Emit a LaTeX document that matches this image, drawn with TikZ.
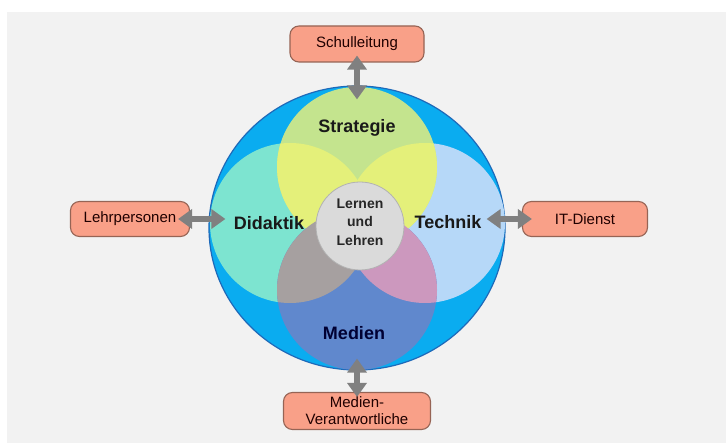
\documentclass[tikz,border=0pt]{standalone}
\usepackage{fontspec}
\setmainfont{Liberation Sans}
\usetikzlibrary{arrows.meta}
\usetikzlibrary{shapes.geometric}
\usepackage{xcolor}
\definecolor{bgcol}{RGB}{242,242,242}
\definecolor{ringblue}{RGB}{10,172,240}
\definecolor{ringline}{RGB}{30,105,185}
\definecolor{stratcol}{RGB}{196,228,142}
\definecolor{didakcol}{RGB}{125,228,208}
\definecolor{techcol}{RGB}{182,216,248}
\definecolor{medcol}{RGB}{96,136,205}
\definecolor{yelcol}{RGB}{228,240,122}
\definecolor{brncol}{RGB}{166,160,160}
\definecolor{pnkcol}{RGB}{204,152,190}
\definecolor{corecol}{RGB}{218,218,218}
\definecolor{boxfill}{RGB}{249,160,136}
\definecolor{boxline}{RGB}{150,100,85}
\definecolor{linkgray}{RGB}{128,128,128}

\begin{document}
\begin{tikzpicture}[x=1pt,y=-1pt,
  partner/.style={draw=boxline, line width=1.1pt, fill=boxfill, rounded corners=9pt,
    font=\fontsize{15}{17}\selectfont, text=black!80!red!60!black, align=center, inner sep=0pt},
  link/.style={draw=linkgray, line width=6pt,
    {Triangle[width=19pt,length=14pt]}-{Triangle[width=19pt,length=14pt]}},
  area/.style={font=\fontsize{18}{20}\selectfont\bfseries, text=black!90}]
\useasboundingbox (0,0) rectangle (726,443);
\fill[white] (0,0) rectangle (726,443);
\fill[bgcol] (7,12) rectangle (726,443);

% outer ring
\node[ellipse, draw=ringline, line width=1.2pt, fill=ringblue, minimum width=296pt, minimum height=284pt] (ring) at (357,228) {};

% petals
\coordinate (s) at (357,167);
\coordinate (d) at (290,223);
\coordinate (t) at (425,223);
\coordinate (m) at (357,290);
\foreach \c/\col in {d/didakcol, t/techcol, s/stratcol, m/medcol}
  \fill[\col] (\c) circle (80pt);
\begin{scope}
\clip (s) circle (80pt);
\fill[yelcol] (d) circle (80pt);
\fill[yelcol] (t) circle (80pt);
\end{scope}
\begin{scope}
\clip (m) circle (80pt);
\fill[brncol] (d) circle (80pt);
\fill[pnkcol] (t) circle (80pt);
\end{scope}

\node[circle, draw=gray!60, line width=0.8pt, fill=corecol, minimum size=88pt, inner sep=0pt] (core) at (360,226) {};
\node[align=center, font=\fontsize{14}{18.5}\selectfont\bfseries, text=black!85] (corelabel)
  at ([yshift=4pt]core.center) {Lernen\\und\\Lehren};

\node[area] (strat) at (357,128) {Strategie};
\node[area] (didak) at (269,223) {Didaktik};
\node[area] (tech) at (448,222) {Technik};
\node[area, text=black!80!blue] (med) at (354,333) {Medien};

% partners
\node[partner, minimum width=134pt, minimum height=36pt] (schul) at (357,44) {Schulleitung};
\node[partner, minimum width=119pt, minimum height=35pt] (lehr) at (130,219) {Lehrpersonen};
\node[partner, minimum width=125pt, minimum height=35pt] (itd) at (585,219) {IT-Dienst};
\node[partner, minimum width=147pt, minimum height=37pt] (medv) at (357,411) {Medien-\\Verantwortliche};

\draw[link, shorten <=-7pt, shorten >=-14pt] (schul.south) -- (schul.south |- ring.north);
\draw[link, shorten <=-12pt, shorten >=-17pt] (lehr.east) -- (lehr.east -| ring.west);
\draw[link, shorten <=-10pt, shorten >=-19pt] (itd.west) -- (itd.west -| ring.east);
\draw[link, shorten <=-5pt, shorten >=-12pt] (medv.north) -- (medv.north |- ring.south);
\end{tikzpicture}
\end{document}
